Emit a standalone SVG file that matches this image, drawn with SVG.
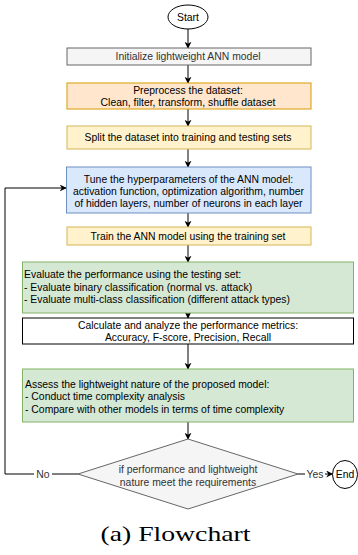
<svg xmlns="http://www.w3.org/2000/svg" width="358" height="555" viewBox="0 0 358 555">
<defs>
<marker id="arr" viewBox="0 0 10 10" refX="9" refY="5" markerWidth="7" markerHeight="7" markerUnits="userSpaceOnUse" orient="auto">
<path d="M0,0 L10,5 L0,10 L3,5 Z" fill="#000"/>
</marker>
</defs>
<style>
text{font-family:"Liberation Sans",Arial,Helvetica,sans-serif;font-size:10.4px;fill:#000}
.c{text-anchor:middle;dominant-baseline:central}
.l{text-anchor:start;dominant-baseline:central}
.g{fill:#333}
.e{fill:none;stroke:#000;stroke-width:1;marker-end:url(#arr)}
</style>
<rect width="358" height="555" fill="#fff"/>
<g id="connectors">
<path class="e" d="M188,29 V48"/>
<path class="e" d="M188,65 V83"/>
<path class="e" d="M188,109 V126"/>
<path class="e" d="M188,149 V167"/>
<path class="e" d="M188,213 V227"/>
<path class="e" d="M188,245 V262"/>
<path class="e" d="M188,313 V318"/>
<path class="e" d="M188,344 V369"/>
<path class="e" d="M188,422 V439"/>
<path class="e" d="M78,474 H5 V188 H66"/>
<path class="e" d="M298,474 H332.5"/>
<rect x="34" y="468" width="18" height="12" fill="#fff"/>
<text class="c g" x="43" y="474.5">No</text>
<rect x="305" y="468" width="20" height="12" fill="#fff"/>
<text class="c g" x="315" y="474.5">Yes</text>
</g>
<g id="start">
<ellipse cx="188" cy="17" rx="20" ry="12" fill="#fff" stroke="#000"/>
<text class="c" x="188" y="17">Start</text>
</g>
<g id="init">
<rect x="67" y="48" width="244" height="17" fill="#f5f5f5" stroke="#666"/>
<text class="c g" x="188" y="56.5">Initialize lightweight ANN model</text>
</g>
<g id="preprocess">
<rect x="67" y="83" width="244" height="26" fill="#ffe6cc" stroke="#d79b00"/>
<text class="c" x="188" y="90">Preprocess the dataset:</text>
<text class="c" x="188" y="102">Clean, filter, transform, shuffle dataset</text>
</g>
<g id="split">
<rect x="67" y="126" width="244" height="23" fill="#fff2cc" stroke="#d6b656"/>
<text class="c" x="188" y="137.5">Split the dataset into training and testing sets</text>
</g>
<g id="tune">
<rect x="66.5" y="167" width="244.5" height="46" fill="#dae8fc" stroke="#6c8ebf"/>
<text class="c" x="188.5" y="179">Tune the hyperparameters of the ANN model:</text>
<text class="c" x="188.5" y="191">activation function, optimization algorithm, number</text>
<text class="c" x="188.5" y="203">of hidden layers, number of neurons in each layer</text>
</g>
<g id="train">
<rect x="67" y="227" width="244" height="18" fill="#fff2cc" stroke="#d6b656"/>
<text class="c" x="188" y="236">Train the ANN model using the training set</text>
</g>
<g id="evaluate">
<rect x="22.5" y="262" width="331" height="51" fill="#d5e8d4" stroke="#82b366"/>
<text class="l" x="24" y="274.5">Evaluate the performance using the testing set:</text>
<text class="l" x="24" y="287">- Evaluate binary classification  (normal vs. attack)</text>
<text class="l" x="24" y="299.5">- Evaluate multi-class classification (different attack types)</text>
</g>
<g id="calculate">
<rect x="22.5" y="318" width="331" height="26" fill="#fff" stroke="#000"/>
<text class="c" x="188" y="325">Calculate and analyze the performance metrics:</text>
<text class="c" x="188" y="337.5">Accuracy, F-score, Precision, Recall</text>
</g>
<g id="assess">
<rect x="22.5" y="369" width="331" height="53" fill="#d5e8d4" stroke="#82b366"/>
<text class="l" x="25" y="384.5">Assess the lightweight nature of the proposed model:</text>
<text class="l" x="25" y="396.5">- Conduct time complexity analysis</text>
<text class="l" x="25" y="409">- Compare with other models in terms of time complexity</text>
</g>
<g id="decision">
<polygon points="188,439 298,474 188,509 78,474" fill="#f5f5f5" stroke="#666"/>
<text class="c g" x="188" y="469.5">if performance and lightweight</text>
<text class="c g" x="188" y="482">nature meet the requirements</text>
</g>
<g id="end">
<ellipse cx="345" cy="474.5" rx="12.5" ry="14" fill="#fff" stroke="#000"/>
<text class="c" x="345" y="474.5">End</text>
</g>
<text x="175.5" y="541" text-anchor="middle" style="font-family:'Liberation Serif','Times New Roman',serif;font-size:21px" textLength="150" lengthAdjust="spacingAndGlyphs">(a) Flowchart</text>
</svg>
